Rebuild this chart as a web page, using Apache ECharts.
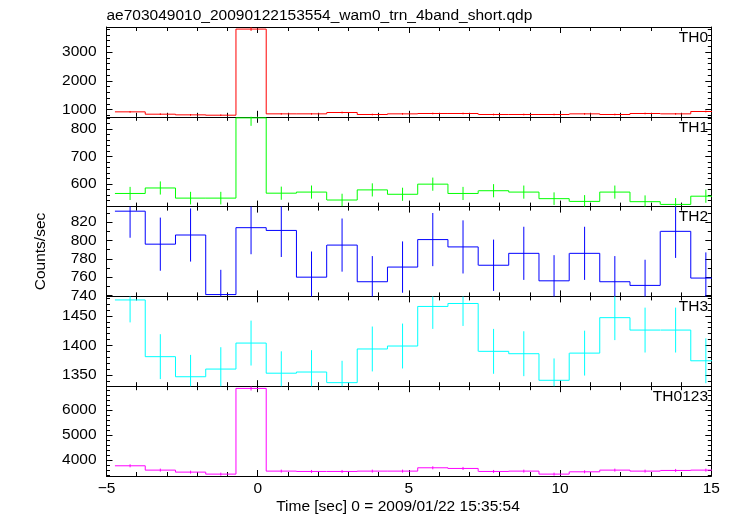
<!DOCTYPE html>
<html><head><meta charset="utf-8">
<script src="https://cdn.jsdelivr.net/npm/echarts@6/dist/echarts.min.js"></script>
<style>html,body{margin:0;padding:0;background:#fff}#c{width:733px;height:516px}</style>
</head><body><div id="c"></div>
<script>
// ---- data ----
const titleText = 'ae703049010_20090122153554_wam0_trn_4band_short.qdp';
const xLabel = 'Time [sec] 0 = 2009/01/22 15:35:54';
const yLabel = 'Counts/sec';
const panelNames = ['TH0', 'TH1', 'TH2', 'TH3', 'TH0123'];
const panelColors = ['#ff0000', '#00ff00', '#0000ff', '#00ffff', '#ff00ff'];
const binCenters = [-4.22, -3.22, -2.22, -1.22, -0.22, 0.78, 1.78, 2.79, 3.79, 4.79,
                    5.79, 6.79, 7.80, 8.80, 9.80, 10.81, 11.81, 12.81, 13.82, 14.82];
const binWidth = 1.0025;
const th0 = [918, 836, 813, 801, 3807, 848, 848, 895, 825, 848, 860, 860, 825, 825, 825, 848, 825, 860, 848, 930];
const th0Err = [30, 29, 29, 28, 62, 29, 29, 30, 29, 29, 29, 29, 29, 29, 29, 29, 29, 29, 29, 30];
const th1 = [565, 585, 548, 548, 841, 566, 570, 541, 578, 562, 599, 565, 575, 570, 546, 536, 570, 535, 525, 555];
const th1Err = [24, 24, 23, 23, 29, 24, 24, 23, 24, 24, 24, 24, 24, 24, 23, 23, 24, 23, 23, 24];
const th2 = [832, 796, 806, 741, 814, 811, 760, 795, 755, 771, 801, 793, 773, 786, 756, 786, 755, 751, 810, 759];
const th2Err = [29, 29, 29, 27, 29, 29, 28, 29, 28, 28, 29, 29, 28, 29, 28, 29, 28, 28, 29, 28];
const th3 = [1477, 1381, 1347, 1360, 1404, 1353, 1355, 1337, 1394, 1399, 1466, 1471, 1390, 1386, 1341, 1387, 1447, 1426, 1426, 1374];
const th3Err = [38, 38, 37, 37, 38, 37, 37, 37, 38, 38, 38, 38, 38, 38, 37, 38, 38, 38, 38, 38];
const th0123 = [3773, 3600, 3520, 3440, 6867, 3560, 3547, 3547, 3560, 3560, 3693, 3667, 3547, 3560, 3440, 3533, 3600, 3560, 3587, 3600];
const th0123Err = [61, 60, 59, 59, 83, 60, 60, 60, 60, 60, 61, 61, 60, 60, 59, 59, 60, 60, 60, 60];
// axis ranges and tick labels
const yMins = [745, 517, 739, 1331, 3365];
const yMaxs = [3880, 845, 837, 1483, 6955];
const yMajorTicks = [[1000, 2000, 3000], [600, 700, 800], [740, 760, 780, 800, 820], [1350, 1400, 1450], [4000, 5000, 6000]];
const yMinorSteps = [200, 20, 10, 10, 200];
const xTickLabels = [-5, 0, 5, 10, 15];

const values = [th0, th1, th2, th3, th0123];
const errors = [th0Err, th1Err, th2Err, th3Err, th0123Err];

// ---- layout ----
const W = 733;
const gridLeft = 106.5, gridRight = W - 711.3;
const gridTops = [27, 116.8, 206.6, 296.4, 386.2];
const gridH = 89.8;
const FONT = 'Liberation Sans, Arial, Helvetica, sans-serif';
const FS = 15.5;

function minorTicks(i) {
  const out = [];
  const s = yMinorSteps[i];
  for (let v = Math.ceil(yMins[i] / s) * s; v <= yMaxs[i]; v += s) {
    if (yMajorTicks[i].indexOf(v) < 0) out.push(v);
  }
  return out;
}

const grids = [], xAxes = [], yAxes = [], series = [], graphics = [];
for (let i = 0; i < 5; i++) {
  grids.push({ left: gridLeft, right: gridRight, top: gridTops[i], height: gridH, containLabel: false });
  const last = i === 4;
  ['bottom', 'top'].forEach(function (pos) {
    xAxes.push({
      type: 'value', gridIndex: i, position: pos, min: -5, max: 15, interval: 5,
      axisLine: { show: true, onZero: false, lineStyle: { color: '#000', width: 1 } },
      axisTick: { show: true, inside: true, length: 6, lineStyle: { color: '#000' } },
      minorTick: { show: true, splitNumber: 5, length: 4, lineStyle: { color: '#000' } },
      splitLine: { show: false }, minorSplitLine: { show: false },
      axisLabel: {
        show: last && pos === 'bottom', margin: 5, color: '#000', fontFamily: FONT, fontSize: FS,
        formatter: function (v) { return xTickLabels.indexOf(v) >= 0 ? String(v).replace('-', '\u2212') : ''; }
      }
    });
  });
  ['left', 'right'].forEach(function (pos) {
    // major ticks (+labels on the left)
    yAxes.push({
      type: 'value', gridIndex: i, position: pos, min: yMins[i], max: yMaxs[i],
      axisLine: { show: true, onZero: false, lineStyle: { color: '#000', width: 1 } },
      axisTick: { show: true, inside: true, length: 6, customValues: yMajorTicks[i], lineStyle: { color: '#000' } },
      axisLabel: { show: pos === 'left', customValues: yMajorTicks[i], margin: 10, color: '#000', fontFamily: FONT, fontSize: FS,
                   formatter: function (v) { return String(v); } },
      splitLine: { show: false }
    });
    // minor ticks
    yAxes.push({
      type: 'value', gridIndex: i, position: pos, min: yMins[i], max: yMaxs[i],
      axisLine: { show: false, onZero: false },
      axisTick: { show: true, inside: true, length: 3.5, customValues: minorTicks(i), lineStyle: { color: '#000' } },
      axisLabel: { show: false },
      splitLine: { show: false }
    });
  });

  const vals = values[i], errs = errors[i], color = panelColors[i];
  series.push({
    type: 'custom', name: panelNames[i], xAxisIndex: i * 2, yAxisIndex: i * 4,
    clip: true, silent: true, animation: false,
    data: binCenters.map(function (x, k) { return [x, vals[k], errs[k]]; }),
    encode: { x: 0, y: 1 },
    renderItem: function (params, api) {
      const k = params.dataIndex;
      const x = api.value(0), y = api.value(1), e = api.value(2);
      const hw = binWidth / 2;
      const st = { stroke: color, lineWidth: 1 };
      const pL = api.coord([x - hw, y]), pR = api.coord([x + hw, y]);
      const eT = api.coord([x, y + e]), eB = api.coord([x, y - e]);
      const ch = [
        { type: 'line', shape: { x1: pL[0], y1: pL[1], x2: pR[0], y2: pR[1] }, style: st },
        { type: 'line', shape: { x1: eT[0], y1: eT[1], x2: eB[0], y2: eB[1] }, style: st }
      ];
      if (k < vals.length - 1) {
        const pN = api.coord([x + hw, vals[k + 1]]);
        ch.push({ type: 'line', shape: { x1: pR[0], y1: pR[1], x2: pN[0], y2: pN[1] }, style: st });
      }
      return { type: 'group', children: ch };
    }
  });

  graphics.push({
    type: 'text', x: 708, y: gridTops[i] + 10.5, z: 100,
    style: { text: panelNames[i], fill: '#000', font: FS + 'px ' + FONT, textAlign: 'right', textVerticalAlign: 'middle' }
  });
}

graphics.push({
  type: 'text', x: 106.5, y: 15.5,
  style: { text: titleText, fill: '#000', font: FS + 'px ' + FONT, textAlign: 'left', textVerticalAlign: 'middle' }
});
graphics.push({
  type: 'text', x: 398, y: 506.5,
  style: { text: xLabel, fill: '#000', font: FS + 'px ' + FONT, textAlign: 'center', textVerticalAlign: 'middle' }
});
graphics.push({
  type: 'text', x: 41, y: 251.5, rotation: Math.PI / 2,
  style: { text: yLabel, fill: '#000', font: FS + 'px ' + FONT, textAlign: 'center', textVerticalAlign: 'middle' }
});

const chart = echarts.init(document.getElementById('c'), null, { renderer: 'canvas' });
chart.setOption({
  animation: false,
  backgroundColor: '#fff',
  grid: grids, xAxis: xAxes, yAxis: yAxes, series: series, graphic: graphics
});
</script>
</body></html>
